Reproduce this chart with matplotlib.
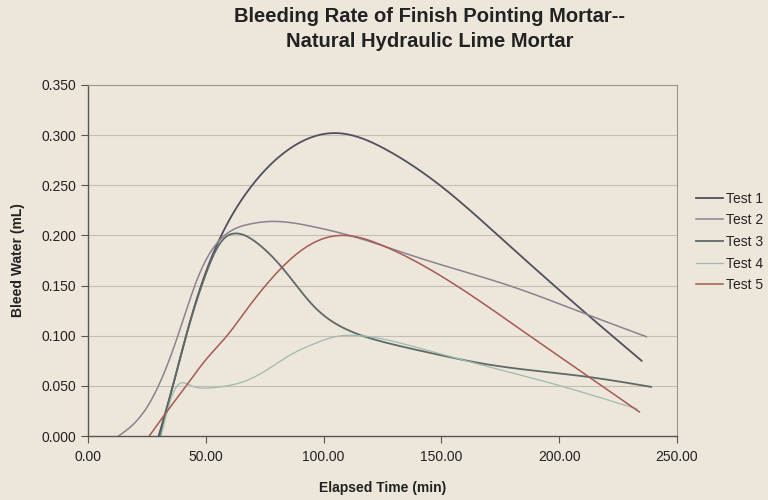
import numpy as np
import matplotlib
matplotlib.use("Agg")
import matplotlib.pyplot as plt

plt.rcParams['font.family'] = ['Liberation Sans', 'DejaVu Sans']

# Data (Excel smoothed scatter)
t1 = [30, 36, 42, 48, 57, 69, 83, 106, 127, 151, 175, 212, 235]
v1 = [0.000, 0.050, 0.103, 0.150, 0.202, 0.248, 0.282, 0.302, 0.285, 0.247, 0.198, 0.121, 0.075]
t2 = [13, 18, 24, 30.5, 38, 47, 57, 68, 79, 95, 111, 140, 180, 212, 237]
v2 = [0.000, 0.009, 0.025, 0.053, 0.099, 0.160, 0.198, 0.211, 0.214, 0.209, 0.200, 0.178, 0.149, 0.121, 0.099]
t3 = [30.5, 36, 42, 49, 56, 63, 72, 82, 96, 110, 125, 145, 168, 190, 212, 239]
v3 = [0.000, 0.050, 0.103, 0.155, 0.192, 0.202, 0.192, 0.169, 0.129, 0.106, 0.094, 0.083, 0.072, 0.065, 0.059, 0.049]
t4 = [31, 37, 44, 52, 59, 67, 76, 86, 96, 105, 116, 132, 154, 175, 196, 215, 233]
v4 = [0.000, 0.047, 0.050, 0.048, 0.050, 0.055, 0.066, 0.081, 0.092, 0.099, 0.100, 0.093, 0.079, 0.066, 0.053, 0.040, 0.027]
t5 = [26, 34, 42, 50, 59, 67, 75, 84, 93, 107, 125, 157, 188, 212, 234]
v5 = [0.000, 0.026, 0.051, 0.076, 0.100, 0.125, 0.149, 0.172, 0.189, 0.200, 0.190, 0.149, 0.099, 0.060, 0.024]

labels = ["Test 1", "Test 2", "Test 3", "Test 4", "Test 5"]
colors = ["#4f5060", "#8a8290", "#5e6a68", "#9dbcae", "#a65a52"]
widths = [1.3, 1.1, 1.3, 0.9, 1.1]

xticks = [0, 50, 100, 150, 200, 250]
yticks = [0.0, 0.05, 0.10, 0.15, 0.20, 0.25, 0.30, 0.35]


def smooth(x, y, n=400):
    """Natural cubic spline through the points (line smoothing)."""
    x = np.asarray(x, float)
    y = np.asarray(y, float)
    m = len(x)
    h = np.diff(x)
    A = np.zeros((m, m))
    b = np.zeros(m)
    A[0, 0] = A[-1, -1] = 1.0
    for i in range(1, m - 1):
        A[i, i - 1] = h[i - 1]
        A[i, i] = 2 * (h[i - 1] + h[i])
        A[i, i + 1] = h[i]
        b[i] = 6 * ((y[i + 1] - y[i]) / h[i] - (y[i] - y[i - 1]) / h[i - 1])
    M = np.linalg.solve(A, b)
    xs = np.linspace(x[0], x[-1], n)
    idx = np.clip(np.searchsorted(x, xs) - 1, 0, m - 2)
    x0, x1 = x[idx], x[idx + 1]
    hh = x1 - x0
    a = (x1 - xs) / hh
    c = (xs - x0) / hh
    ys = (a * y[idx] + c * y[idx + 1]
          + ((a ** 3 - a) * M[idx] + (c ** 3 - c) * M[idx + 1]) * hh ** 2 / 6)
    return xs, ys


bg = "#ede6da"
fig = plt.figure(figsize=(7.68, 5.0), dpi=100, facecolor=bg)
ax = fig.add_axes([88 / 768, 64 / 500, 589 / 768, 351 / 500], facecolor=bg)

for yv in yticks[1:-1]:
    ax.axhline(yv, color="#c4beb3", lw=0.8, zorder=0)

series = [(t1, v1), (t2, v2), (t3, v3), (t4, v4), (t5, v5)]
for (t, v), lab, c, w in zip(series, labels, colors, widths):
    xs, ys = smooth(t, v)
    ax.plot(xs, ys, color=c, lw=w, label=lab)

ax.set_xlim(0, 250)
ax.set_ylim(0, 0.35)
ax.set_xticks(xticks)
ax.set_xticklabels([f"{x:.2f}" for x in xticks])
ax.set_yticks(yticks)
ax.set_yticklabels([f"{y:.3f}" for y in yticks])
ax.tick_params(axis="both", labelsize=10, colors="#555555", labelcolor="#222222",
               direction="out", length=5, width=0.8)
ax.tick_params(axis="x", pad=5)
for sp in ["left", "bottom"]:
    ax.spines[sp].set_color("#555555")
    ax.spines[sp].set_linewidth(1.0)
for sp in ["right", "top"]:
    ax.spines[sp].set_color("#9a958d")
    ax.spines[sp].set_linewidth(0.8)

ax.set_xlabel("Elapsed Time (min)", fontsize=10, fontweight="bold", labelpad=12, color="#222222")
ax.set_ylabel("Bleed Water (mL)", fontsize=10, fontweight="bold", labelpad=12, color="#222222")

fig.text(430 / 768, 1 - 29 / 500, "Bleeding Rate of Finish Pointing Mortar--\nNatural Hydraulic Lime Mortar",
         ha="center", va="center", fontsize=14.5, fontweight="bold", color="#222222", linespacing=1.35)

leg = fig.legend(loc="center left", bbox_to_anchor=(690 / 768, 1 - 242 / 500), frameon=False,
                 fontsize=10, handlelength=2.0, handletextpad=0.2, labelspacing=0.55,
                 borderaxespad=0)
for txt in leg.get_texts():
    txt.set_color("#222222")

fig.savefig("out.png", dpi=100, facecolor=bg)
